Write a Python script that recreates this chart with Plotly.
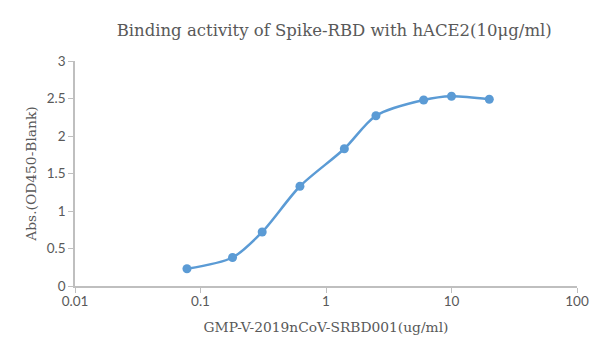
import plotly.graph_objects as go

conc = [0.078, 0.18, 0.31, 0.62, 1.4, 2.5, 6, 10, 20]
absorb = [0.23, 0.38, 0.72, 1.33, 1.83, 2.27, 2.48, 2.53, 2.49]
x_ticks = [0.01, 0.1, 1, 10, 100]
x_tick_labels = ["0.01", "0.1", "1", "10", "100"]
y_ticks = [0, 0.5, 1, 1.5, 2, 2.5, 3]
y_tick_labels = ["0", "0.5", "1", "1.5", "2", "2.5", "3"]

fig = go.Figure()
fig.add_trace(go.Scatter(
    x=conc, y=absorb, mode="lines+markers",
    line=dict(color="#5b9bd5", width=2.5, shape="spline", smoothing=0.8),
    marker=dict(color="#5b9bd5", size=9),
    showlegend=False,
))

serif = "'DejaVu Serif', serif"
tickfont = dict(family="Lato, sans-serif", size=13.5, color="#595959")
fig.update_layout(
    width=592, height=352,
    margin=dict(l=67, r=23, t=53, b=74, autoexpand=False),
    paper_bgcolor="white", plot_bgcolor="white",
    title=dict(text="Binding activity of Spike-RBD with hACE2(10μg/ml)",
               x=0.551, xanchor="center", y=0.9375, yanchor="middle",
               font=dict(family=serif, size=16.5, color="#595959")),
    xaxis=dict(type="log", range=[-2, 2], tickvals=x_ticks, ticktext=x_tick_labels,
               automargin=False, ticklabelstandoff=-3,
               showgrid=False, zeroline=False, showline=True, linecolor="#bfbfbf", linewidth=1.5,
               ticks="outside", ticklen=5, tickcolor="#bfbfbf",
               tickfont=tickfont,
               title=dict(text="GMP-V-2019nCoV-SRBD001(ug/ml)", standoff=14,
                          font=dict(family=serif, size=13.8, color="#595959"))),
    yaxis=dict(range=[0, 3], tickvals=y_ticks, ticktext=y_tick_labels,
               automargin=False,
               showgrid=False, zeroline=False, showline=True, linecolor="#bfbfbf", linewidth=1.5,
               ticks="outside", ticklen=5, tickcolor="#bfbfbf",
               tickfont=tickfont,
               title=dict(text="Abs.(OD450-Blank)", standoff=7,
                          font=dict(family=serif, size=13.8, color="#595959"))),
)
fig.write_html("out.html")
